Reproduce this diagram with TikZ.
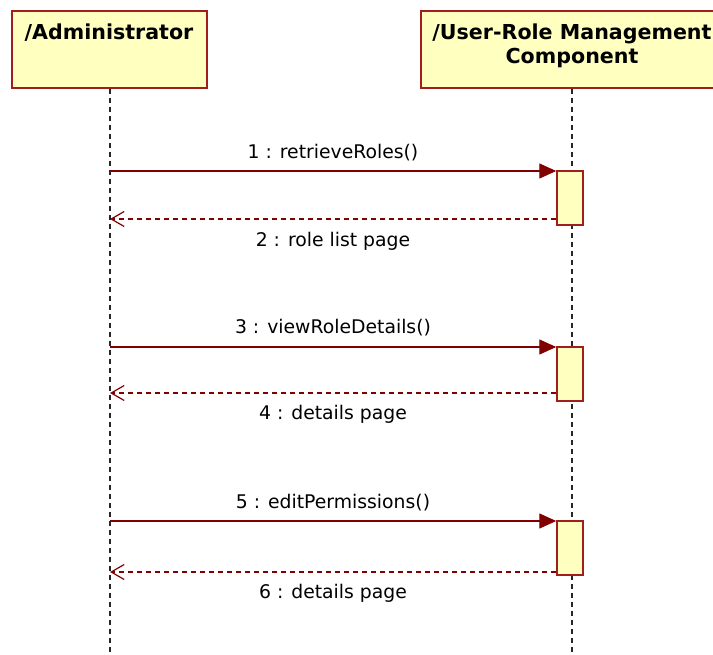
\documentclass[tikz,border=0pt]{standalone}
\usepackage{fontspec}
\setmainfont{DejaVu Sans}
\usetikzlibrary{arrows.meta}
\definecolor{frame}{RGB}{160,30,30}
\definecolor{msgline}{RGB}{128,0,0}
\definecolor{boxfill}{RGB}{255,255,192}
\tikzset{
  x=1pt, y=-1pt,
  header/.style={draw=frame, line width=1.6pt, fill=boxfill, inner sep=0pt, anchor=north west},
  headtext/.style={font=\fontsize{20.6}{24}\selectfont\bfseries, align=center, inner sep=0pt, anchor=north},
  lifeline/.style={draw=black!85, line width=1.2pt, dash pattern=on 5pt off 4pt},
  activation/.style={draw=frame, line width=1.5pt, fill=boxfill, minimum width=26pt, minimum height=54pt, inner sep=0pt},
  call/.style={draw=msgline, line width=1.4pt, -{Triangle[length=17pt,width=15pt]}},
  reply/.style={draw=msgline, line width=1.3pt, dash pattern=on 5pt off 4pt, -{Straight Barb[length=13pt,width=15pt,line width=1.2pt]}},
  msgtext/.style={font=\fontsize{18.8}{22}\selectfont, inner sep=0pt}
}
\begin{document}
\begin{tikzpicture}
\clip (0,0) rectangle (713,655);
\fill[white] (0,0) rectangle (713,655);

% lifeline heads
\node[header, minimum width=195pt, minimum height=77pt] (admin) at (11,10) {};
\node[header, minimum width=304pt, minimum height=77pt] (comp) at (420,10) {};
\node[headtext] (adminlbl) at (109,24) {/Administrator};
\node[headtext] (complbl) at (572,24) {/User-Role Management\\Component};

% lifelines
\coordinate (adminend) at (110,655);
\coordinate (compend) at (572,655);
\draw[lifeline] (admin.south -| adminend) -- (adminend);
\draw[lifeline] (comp.south -| compend) -- (compend);

% activation bars
\node[activation] (act1) at (570,198) {};
\node[activation] (act2) at (570,374) {};
\node[activation] (act3) at (570,548) {};

% points on the administrator lifeline
\coordinate (a1) at (110,171);
\coordinate (a2) at (110,219);
\coordinate (a3) at (110,347);
\coordinate (a4) at (110,393);
\coordinate (a5) at (110,521);
\coordinate (a6) at (110,572);

% messages
\draw[call] (a1) -- (act1.west |- a1);
\draw[reply] (act1.west |- a2) -- (a2);
\draw[call] (a3) -- (act2.west |- a3);
\draw[reply] (act2.west |- a4) -- (a4);
\draw[call] (a5) -- (act3.west |- a5);
\draw[reply] (act3.west |- a6) -- (a6);

% message labels
\node[msgtext] (l1) at (333,153) {1 : retrieveRoles()};
\node[msgtext] (l2) at (333,241) {2 : role list page};
\node[msgtext] (l3) at (333,328) {3 : viewRoleDetails()};
\node[msgtext] (l4) at (333,414) {4 : details page};
\node[msgtext] (l5) at (333,503) {5 : editPermissions()};
\node[msgtext] (l6) at (333,593) {6 : details page};
\end{tikzpicture}
\end{document}
